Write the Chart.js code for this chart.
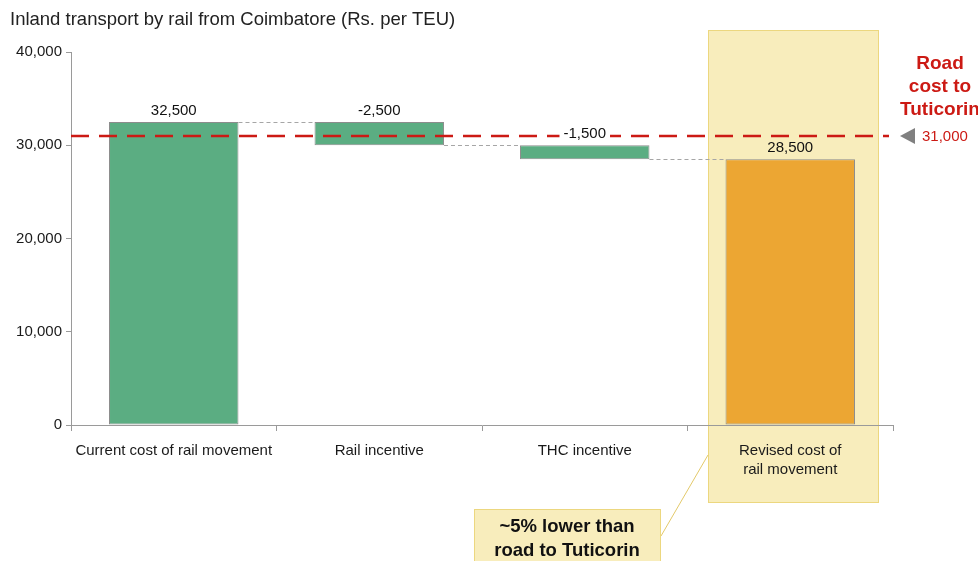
<!DOCTYPE html>
<html>
<head>
<meta charset="utf-8">
<script src="https://cdn.jsdelivr.net/npm/chart.js@4"></script>
<style>
  html, body { margin: 0; padding: 0; background: #ffffff; }
  #wrap { width: 978px; height: 561px; position: relative; }
</style>
</head>
<body>
<div id="wrap"><canvas id="c" width="978" height="561"></canvas></div>
<script>
// Waterfall: current rail cost, incentives, revised rail cost (Rs. per TEU)
const categories = [
  'Current cost of rail movement',
  'Rail incentive',
  'THC incentive',
  ['Revised cost of', 'rail movement']
];
const stepValues = [32500, -2500, -1500, 28500];
const stepKinds = ['total', 'delta', 'delta', 'total'];
const valueLabels = ['32,500', '-2,500', '-1,500', '28,500'];
const roadCost = 31000;
const roadCostLabel = '31,000';
const yTicks = [0, 10000, 20000, 30000, 40000];

// floating [from, to] ranges for each step
const ranges = [];
let running = 0;
stepValues.forEach((v, i) => {
  if (stepKinds[i] === 'total') { ranges.push([0, v]); running = v; }
  else { ranges.push([running + v, running]); running = running + v; }
});

const GREEN = '#5bad82';
const ORANGE = '#eca633';
const FONT = '"Liberation Sans", Arial, sans-serif';

const decor = {
  id: 'decor',
  beforeDraw(chart) {
    const ctx = chart.ctx;
    // highlight panel behind the revised cost column
    ctx.save();
    ctx.fillStyle = '#f8edbc';
    ctx.strokeStyle = '#ecd77f';
    ctx.lineWidth = 1;
    ctx.fillRect(708.5, 30.5, 170, 472);
    ctx.strokeRect(708.5, 30.5, 170, 472);
    ctx.restore();
  },
  afterDatasetsDraw(chart) {
    const ctx = chart.ctx;
    const y = chart.scales.y;
    const meta = chart.getDatasetMeta(0);
    const area = chart.chartArea;

    // connectors between steps
    ctx.save();
    ctx.strokeStyle = '#a6a6a6';
    ctx.lineWidth = 1;
    ctx.setLineDash([4, 3]);
    for (let i = 0; i < meta.data.length - 1; i++) {
      const a = meta.data[i].getProps(['x', 'width'], true);
      const b = meta.data[i + 1].getProps(['x', 'width'], true);
      const level = stepKinds[i] === 'total' ? ranges[i][1] : ranges[i][0];
      const py = Math.round(y.getPixelForValue(level)) + 0.5;
      ctx.beginPath();
      ctx.moveTo(a.x + a.width / 2, py);
      ctx.lineTo(b.x - b.width / 2, py);
      ctx.stroke();
    }
    ctx.restore();

    // road cost reference line
    const ry = y.getPixelForValue(roadCost);
    ctx.save();
    ctx.strokeStyle = '#cc1a14';
    ctx.lineWidth = 2.5;
    ctx.setLineDash([18, 10]);
    ctx.beginPath();
    ctx.moveTo(area.left, ry);
    ctx.lineTo(area.right - 4, ry);
    ctx.stroke();
    ctx.restore();

    // value labels above each bar
    ctx.save();
    ctx.font = '15px ' + FONT;
    ctx.textAlign = 'center';
    ctx.textBaseline = 'middle';
    meta.data.forEach((bar, i) => {
      const top = y.getPixelForValue(ranges[i][1]);
      const ly = top - 11;
      const w = ctx.measureText(valueLabels[i]).width;
      ctx.fillStyle = '#ffffff';
      if (i !== 3) ctx.fillRect(bar.x - w / 2 - 4, ly - 8, w + 8, 16);
      ctx.fillStyle = '#111111';
      ctx.fillText(valueLabels[i], bar.x, ly);
    });
    ctx.restore();

    // marker and value for road cost
    ctx.save();
    ctx.fillStyle = '#808080';
    ctx.beginPath();
    ctx.moveTo(900, ry);
    ctx.lineTo(915, ry - 8);
    ctx.lineTo(915, ry + 8);
    ctx.closePath();
    ctx.fill();
    ctx.fillStyle = '#cc1a14';
    ctx.font = '15px ' + FONT;
    ctx.textAlign = 'left';
    ctx.textBaseline = 'middle';
    ctx.fillText(roadCostLabel, 922, ry + 1);
    ctx.font = 'bold 19px ' + FONT;
    ctx.textAlign = 'center';
    ctx.fillText('Road', 940, 64);
    ctx.fillText('cost to', 940, 87);
    ctx.fillText('Tuticorin', 940, 110);
    ctx.restore();
  },
  afterDraw(chart) {
    const ctx = chart.ctx;
    ctx.save();
    // chart heading
    ctx.fillStyle = '#222222';
    ctx.font = '18.5px ' + FONT;
    ctx.textAlign = 'left';
    ctx.textBaseline = 'middle';
    ctx.fillText('Inland transport by rail from Coimbatore (Rs. per TEU)', 10, 20);

    // callout
    ctx.strokeStyle = '#e3c96a';
    ctx.lineWidth = 1;
    ctx.beginPath();
    ctx.moveTo(661, 536);
    ctx.lineTo(708, 455);
    ctx.stroke();
    ctx.fillStyle = '#f8edbc';
    ctx.strokeStyle = '#ecd77f';
    ctx.fillRect(474.5, 509.5, 186, 60);
    ctx.strokeRect(474.5, 509.5, 186, 60);
    ctx.fillStyle = '#111111';
    ctx.font = 'bold 18.5px ' + FONT;
    ctx.textAlign = 'center';
    ctx.fillText('~5% lower than', 567, 527);
    ctx.fillText('road to Tuticorin', 567, 551);
    ctx.restore();
  }
};

new Chart(document.getElementById('c'), {
  type: 'bar',
  data: {
    labels: categories,
    datasets: [{
      data: ranges,
      backgroundColor: stepKinds.map((k, i) => i === 3 ? ORANGE : GREEN),
      borderColor: '#8c8c8c',
      borderWidth: 1,
      borderSkipped: false,
      barPercentage: 0.63,
      categoryPercentage: 1
    }]
  },
  options: {
    responsive: false,
    animation: false,
    layout: { padding: { top: 52, right: 85, left: 0, bottom: 0 } },
    plugins: { legend: { display: false }, tooltip: { enabled: false } },
    scales: {
      x: {
        grid: { display: true, drawOnChartArea: false, drawTicks: true, tickLength: 6, color: '#9a9a9a' },
        border: { color: '#9a9a9a', width: 1 },
        ticks: { color: '#1a1a1a', font: { family: FONT, size: 15, lineHeight: 1.3 }, padding: 10, maxRotation: 0, autoSkip: false },
        afterFit(scale) { scale.height = 136; }
      },
      y: {
        min: 0, max: 40000,
        afterBuildTicks(scale) { scale.ticks = yTicks.map(v => ({ value: v })); },
        grid: { display: true, drawOnChartArea: false, drawTicks: true, tickLength: 5, color: '#9a9a9a' },
        border: { color: '#9a9a9a', width: 1 },
        ticks: {
          color: '#1a1a1a', font: { family: FONT, size: 15 }, padding: 4,
          callback: v => v.toLocaleString('en-US')
        },
        afterFit(scale) { scale.width = 71; }
      }
    }
  },
  plugins: [decor]
});
</script>
</body>
</html>
